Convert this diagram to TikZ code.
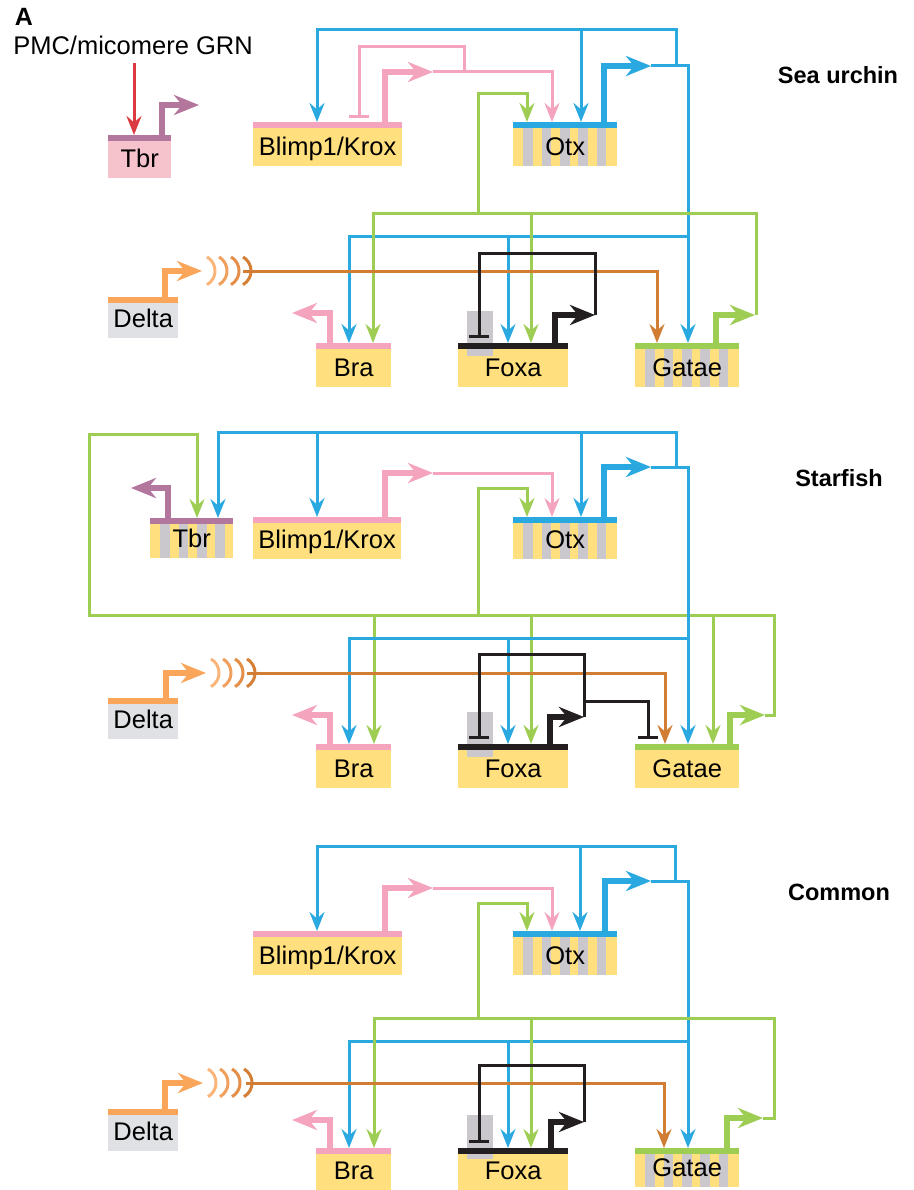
\documentclass[tikz,border=0pt]{standalone}
\usepackage{fontspec}
\setmainfont{Liberation Sans}
\usetikzlibrary{arrows.meta}
\definecolor{cblue}{HTML}{2AA8E0}
\definecolor{cpink}{HTML}{F4A4BD}
\definecolor{cgreen}{HTML}{9DCD52}
\definecolor{corange}{HTML}{F9A65B}
\definecolor{cdkor}{HTML}{D27D34}
\definecolor{cmauve}{HTML}{B3769C}
\definecolor{cred}{HTML}{DA3A40}
\definecolor{cyel}{HTML}{FFDF7E}
\definecolor{cgray}{HTML}{CAC8CD}
\definecolor{cdelta}{HTML}{DFE1E4}
\definecolor{ctbr}{HTML}{F6C2CC}
\definecolor{cblack}{HTML}{231F20}
\definecolor{arcA}{HTML}{FAB57A}
\definecolor{arcB}{HTML}{F0A05E}
\definecolor{arcC}{HTML}{E38F4A}
\definecolor{arcD}{HTML}{D47F35}
\newcommand\myGeneFont{\fontsize{25.5}{30}\selectfont}
\newcommand\myTitleFont{\bfseries\fontsize{23.5}{28}\selectfont}
\newcommand\sigarcs[2]{%
  \foreach \dx/\col in {13/arcA,25/arcB,37/arcC,49/arcD}
    \draw[line width=3pt,\col] ({#1+\dx-8},{#2-14}) arc[start angle=-60,end angle=60,radius=16];}
\begin{document}
\begin{tikzpicture}[x=1pt,y=-1pt,
  genebox/.style={rectangle,inner sep=0pt,anchor=north west,font=\myGeneFont,text depth=0pt},
  gbar/.style={path picture={\fill[#1] (path picture bounding box.north west) rectangle ([yshift=-5.5pt]path picture bounding box.north east);}},
  gsbar/.style 2 args={path picture={\foreach \k in {1,...,#2}{\fill[cgray] ([xshift={10pt+(\k-1)*18.4pt}]path picture bounding box.north west) rectangle ([xshift={19.6pt+(\k-1)*18.4pt}]path picture bounding box.south west);}\fill[#1] (path picture bounding box.north west) rectangle ([yshift=-5.5pt]path picture bounding box.north east);}},
  wire/.style={line width=3pt},
  act/.style={wire,-{Stealth[length=19pt,width=15pt,inset=6.5pt]}},
  inh/.style={wire,-{Bar[width=20pt]}},
  prom/.style={line width=6.3pt,-{Stealth[length=25pt,width=20pt,inset=8pt]}},
  paneltitle/.style={font=\myTitleFont,anchor=base},
]
\useasboundingbox (0,0) rectangle (913,1190);

% ---------- labels ----------
\node[anchor=base,font=\bfseries\fontsize{25}{28}\selectfont] (lblA) at (24,26) {A};
\node[anchor=base,font=\myGeneFont] (pmc) at (133,55) {PMC/micomere GRN};
\node[paneltitle] (t1) at (838,84) {Sea urchin};
\node[paneltitle] (t2) at (839,486) {Starfish};
\node[paneltitle] (t3) at (839,900) {Common};

% ================= Sea urchin =================
\node[genebox,fill=ctbr,gbar=cmauve,minimum width=63pt,minimum height=43pt,text height=22pt] (tbr1) at (108,135) {Tbr};
\node[genebox,fill=cyel,gbar=cpink,minimum width=149pt,minimum height=44pt,text height=23pt] (bk1) at (253,122) {Blimp1/Krox};
\node[genebox,fill=cyel,gsbar={cblue}{5},minimum width=104pt,minimum height=44pt,text height=23pt] (otx1) at (513,122) {Otx};
\node[genebox,fill=cdelta,gbar=corange,minimum width=70pt,minimum height=41pt,text height=20pt] (del1) at (108,297) {Delta};
\node[genebox,fill=cyel,gbar=cpink,minimum width=75pt,minimum height=44pt,text height=23pt] (bra1) at (316,343) {Bra};
\node[genebox,fill=cyel,gbar=cblack,minimum width=110pt,minimum height=44pt,text height=23pt] (fox1) at (458,343) {Foxa};
\fill[cgray] (467,311) rectangle (493,356);
\fill[cblack] (fox1.north west) rectangle ([yshift=-5.5pt]fox1.north east);
\node[genebox,fill=cyel,gsbar={cgreen}{5},minimum width=104pt,minimum height=44pt,text height=23pt] (gat1) at (635,343) {Gatae};

\draw[act,cred] (pmc.base -| 134,0) ++(0,8) -- (134,0 |- tbr1.north);
\draw[prom,cmauve] (162,137) -- (162,105) -- (199,105);
\draw[prom,cpink] (385,124) -- (385,72) -- (433,72);
\draw[act,cpink] (433,72) -- (552,72) -- (552,0 |- otx1.north);
\draw[inh,cpink] (464,72) -- (464,47) -- (359,47) -- (359,118);
\draw[prom,cblue] (604,124) -- (604,66) -- (651,66);
\draw[act,cblue] (651,66) -- (688,66) -- (688,0 |- gat1.north);
\draw[act,cblue] (676,66) -- (676,30) -- (317,30) -- (317,0 |- bk1.north);
\draw[act,cblue] (581,30) -- (581,0 |- otx1.north);
\draw[act,cblue] (688,237) -- (349,237) -- (349,0 |- bra1.north);
\draw[act,cblue] (508,237) -- (508,0 |- fox1.north);
\draw[prom,cgreen] (716,345) -- (716,315) -- (755,315);
\draw[act,cgreen] (756,315) -- (756,214) -- (373,214) -- (373,0 |- bra1.north);
\draw[act,cgreen] (478,214) -- (478,94) -- (527,94) -- (527,0 |- otx1.north);
\draw[act,cgreen] (531,214) -- (531,0 |- fox1.north);
\draw[prom,corange] (165,299) -- (165,271) -- (202,271);
\sigarcs{202}{271}
\draw[act,cdkor] (243,271) -- (657,271) -- (657,0 |- gat1.north);
\draw[prom,cpink] (330,345) -- (330,313) -- (292,313);
\draw[prom,cblack] (555,345) -- (555,315) -- (595,315);
\draw[inh,cblack] (595,315) -- (595,253) -- (479,253) -- (479,338);

% ================= Starfish =================
\node[genebox,fill=cyel,gsbar={cmauve}{4},minimum width=83pt,minimum height=40pt,text height=19pt] (tbr2) at (150,518) {Tbr};
\node[genebox,fill=cyel,gbar=cpink,minimum width=148pt,minimum height=42pt,text height=21pt] (bk2) at (253,517) {Blimp1/Krox};
\node[genebox,fill=cyel,gsbar={cblue}{5},minimum width=104pt,minimum height=42pt,text height=21pt] (otx2) at (513,517) {Otx};
\node[genebox,fill=cdelta,gbar=corange,minimum width=70pt,minimum height=41pt,text height=20pt] (del2) at (108,698) {Delta};
\node[genebox,fill=cyel,gbar=cpink,minimum width=75pt,minimum height=44pt,text height=23pt] (bra2) at (316,744) {Bra};
\node[genebox,fill=cyel,gbar=cblack,minimum width=110pt,minimum height=44pt,text height=23pt] (fox2) at (458,744) {Foxa};
\fill[cgray] (467,712) rectangle (493,757);
\fill[cblack] (fox2.north west) rectangle ([yshift=-5.5pt]fox2.north east);
\node[genebox,fill=cyel,gbar=cgreen,minimum width=104pt,minimum height=44pt,text height=23pt] (gat2) at (635,744) {Gatae};

\draw[act,cgreen] (765,715) -- (774,715) -- (774,615) -- (89,615) -- (89,434) -- (197,434) -- (197,0 |- tbr2.north);
\draw[act,cgreen] (713,615) -- (713,0 |- gat2.north);
\draw[act,cgreen] (531,615) -- (531,0 |- fox2.north);
\draw[act,cgreen] (374,615) -- (374,0 |- bra2.north);
\draw[act,cgreen] (478,615) -- (478,488) -- (527,488) -- (527,0 |- otx2.north);
\draw[prom,cgreen] (730,746) -- (730,715) -- (765,715);
\draw[prom,cmauve] (168,520) -- (168,488) -- (131,488);
\draw[act,cblue] (676,467) -- (676,432) -- (218,432) -- (218,0 |- tbr2.north);
\draw[act,cblue] (317,432) -- (317,0 |- bk2.north);
\draw[act,cblue] (581,432) -- (581,0 |- otx2.north);
\draw[prom,cpink] (385,519) -- (385,473) -- (433,473);
\draw[act,cpink] (433,473) -- (552,473) -- (552,0 |- otx2.north);
\draw[prom,cblue] (604,519) -- (604,467) -- (651,467);
\draw[act,cblue] (651,467) -- (688,467) -- (688,0 |- gat2.north);
\draw[act,cblue] (688,638) -- (349,638) -- (349,0 |- bra2.north);
\draw[act,cblue] (508,638) -- (508,0 |- fox2.north);
\draw[prom,corange] (166,700) -- (166,673) -- (206,673);
\sigarcs{206}{673}
\draw[act,cdkor] (247,673) -- (665,673) -- (665,0 |- gat2.north);
\draw[prom,cpink] (330,746) -- (330,715) -- (292,715);
\draw[prom,cblack] (550,746) -- (550,717) -- (584,717);
\draw[inh,cblack] (584,717) -- (584,654) -- (479,654) -- (479,739);
\draw[inh,cblack] (584,701) -- (648,701) -- (648,739);

% ================= Common =================
\node[genebox,fill=cyel,gbar=cpink,minimum width=149pt,minimum height=44pt,text height=23pt] (bk3) at (253,931) {Blimp1/Krox};
\node[genebox,fill=cyel,gsbar={cblue}{5},minimum width=104pt,minimum height=44pt,text height=23pt] (otx3) at (513,931) {Otx};
\node[genebox,fill=cdelta,gbar=corange,minimum width=70pt,minimum height=42pt,text height=21pt] (del3) at (108,1109) {Delta};
\node[genebox,fill=cyel,gbar=cpink,minimum width=75pt,minimum height=42pt,text height=21pt] (bra3) at (316,1148) {Bra};
\node[genebox,fill=cyel,gbar=cblack,minimum width=110pt,minimum height=42pt,text height=21pt] (fox3) at (458,1148) {Foxa};
\fill[cgray] (467,1115) rectangle (493,1159);
\fill[cblack] (fox3.north west) rectangle ([yshift=-5.5pt]fox3.north east);
\node[genebox,fill=cyel,gsbar={cgreen}{5},minimum width=104pt,minimum height=39pt,text height=18pt] (gat3) at (635,1148) {Gatae};

\draw[act,cblue] (675,881) -- (675,846) -- (317,846) -- (317,0 |- bk3.north);
\draw[act,cblue] (580,846) -- (580,0 |- otx3.north);
\draw[prom,cpink] (385,933) -- (385,888) -- (433,888);
\draw[act,cpink] (433,888) -- (552,888) -- (552,0 |- otx3.north);
\draw[prom,cblue] (605,933) -- (605,881) -- (651,881);
\draw[act,cblue] (651,881) -- (688,881) -- (688,0 |- gat3.north);
\draw[act,cblue] (688,1041) -- (349,1041) -- (349,0 |- bra3.north);
\draw[act,cblue] (508,1041) -- (508,0 |- fox3.north);
\draw[prom,cgreen] (727,1150) -- (727,1118) -- (763,1118);
\draw[act,cgreen] (763,1118) -- (774,1118) -- (774,1018) -- (374,1018) -- (374,0 |- bra3.north);
\draw[act,cgreen] (478,1018) -- (478,903) -- (527,903) -- (527,0 |- otx3.north);
\draw[act,cgreen] (531,1018) -- (531,0 |- fox3.north);
\draw[prom,corange] (165,1111) -- (165,1083) -- (203,1083);
\sigarcs{203}{1083}
\draw[act,cdkor] (246,1083) -- (664,1083) -- (664,0 |- gat3.north);
\draw[prom,cpink] (330,1150) -- (330,1120) -- (292,1120);
\draw[prom,cblack] (551,1150) -- (551,1122) -- (584,1122);
\draw[inh,cblack] (584,1122) -- (584,1065) -- (479,1065) -- (479,1143);
\end{tikzpicture}
\end{document}
